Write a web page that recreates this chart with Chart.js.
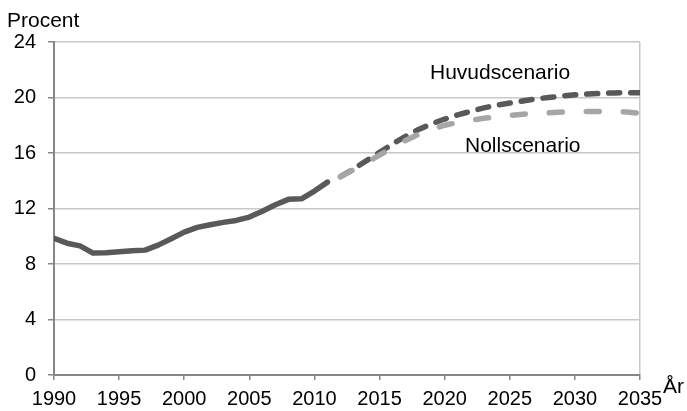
<!DOCTYPE html>
<html>
<head>
<meta charset="utf-8">
<script src="https://cdn.jsdelivr.net/npm/chart.js@4.4.1/dist/chart.umd.min.js"></script>
<style>
html,body{margin:0;padding:0;background:#fff;}
#wrap{position:relative;width:687px;height:411px;}
</style>
</head>
<body>
<div id="wrap"><canvas id="c" width="687" height="411"></canvas></div>
<script>
const histYears = [1990,1991,1992,1993,1994,1995,1996,1997,1998,1999,2000,2001,2002,2003,2004,2005,2006,2007,2008,2009,2010,2011];
const histValues = [9.85,9.5,9.31,8.79,8.81,8.88,8.95,9.0,9.36,9.82,10.3,10.64,10.83,11.0,11.14,11.38,11.8,12.27,12.66,12.7,13.26,13.9];
const projYears = [2012,2013,2014,2015,2016,2017,2018,2019,2020,2021,2022,2023,2024,2025,2026,2027,2028,2029,2030,2031,2032,2033,2034,2035];
const huvudValues = [14.3,14.85,15.45,16.05,16.65,17.2,17.7,18.1,18.45,18.75,19.0,19.25,19.45,19.6,19.75,19.9,20.0,20.1,20.2,20.25,20.3,20.33,20.35,20.35];
const nollValues = [14.3,14.8,15.3,15.85,16.4,16.9,17.35,17.7,18.0,18.2,18.35,18.5,18.6,18.7,18.8,18.85,18.9,18.95,19.0,19.0,19.0,19.0,18.95,18.85];
const yTicks = [0,4,8,12,16,20,24];
const xTicks = [1990,1995,2000,2005,2010,2015,2020,2025,2030,2035];
const labelY = 'Procent';
const labelX = 'År';
const nameHuvud = 'Huvudscenario';
const nameNoll = 'Nollscenario';

const pts = (xs, ys) => xs.map((x, i) => ({x: x, y: ys[i]}));
const FONT = "'Liberation Sans', Arial, sans-serif";
const DARK = '#595959';
const LIGHT = '#a6a6a6';
const AXIS = '#868686';
const GRID = '#c8c8c8';

const textPlugin = {
  id: 'texts',
  afterDraw(chart) {
    const ctx = chart.ctx;
    ctx.save();
    ctx.fillStyle = '#000';
    ctx.font = '21px ' + FONT;
    ctx.textBaseline = 'alphabetic';
    ctx.textAlign = 'left';
    ctx.fillText(labelY, 7, 27);
    ctx.fillText(nameHuvud, 430, 79);
    ctx.fillText(nameNoll, 465, 152);
    ctx.fillText(labelX, 663, 393);
    ctx.restore();
  }
};

new Chart(document.getElementById('c'), {
  type: 'line',
  data: {
    datasets: [
      {label: nameNoll, data: pts(projYears, nollValues), borderColor: LIGHT, borderWidth: 5.5,
       borderDash: [13, 24], borderCapStyle: 'round', borderJoinStyle: 'round', pointRadius: 0, tension: 0, fill: false},
      {label: nameHuvud, data: pts(projYears, huvudValues), borderColor: DARK, borderWidth: 5.5,
       borderDash: [11, 11], borderCapStyle: 'round', borderJoinStyle: 'round', pointRadius: 0, tension: 0, fill: false},
      {label: 'Historik', data: pts(histYears, histValues), borderColor: DARK, borderWidth: 5.5,
       borderCapStyle: 'round', borderJoinStyle: 'round', pointRadius: 0, tension: 0, fill: false}
    ]
  },
  options: {
    responsive: false,
    animation: false,
    events: [],
    layout: {padding: {top: 42, right: 47, left: 0, bottom: 0}},
    plugins: {legend: {display: false}, tooltip: {enabled: false}},
    scales: {
      x: {
        type: 'linear', min: 1990, max: 2035,
        afterBuildTicks: s => { s.ticks = xTicks.map(v => ({value: v})); },
        afterFit: s => { s.height = 36; },
        grid: {
          color: c => (c.tick && c.tick.value === 2035) ? GRID : 'rgba(0,0,0,0)',
          tickColor: AXIS, tickLength: 5, lineWidth: 1.5
        },
        border: {color: AXIS, width: 2},
        ticks: {color: '#000', font: {family: FONT, size: 20}, padding: 7, maxRotation: 0, autoSkip: false,
                callback: v => String(v)}
      },
      y: {
        min: 0, max: 24,
        afterBuildTicks: s => { s.ticks = yTicks.map(v => ({value: v})); },
        afterFit: s => { s.width = 54; },
        grid: {color: GRID, tickColor: AXIS, tickLength: 6, lineWidth: 1.5},
        border: {color: AXIS, width: 2},
        ticks: {color: '#000', font: {family: FONT, size: 20}, padding: 12, callback: v => String(v)}
      }
    }
  },
  plugins: [textPlugin]
});
</script>
</body>
</html>
